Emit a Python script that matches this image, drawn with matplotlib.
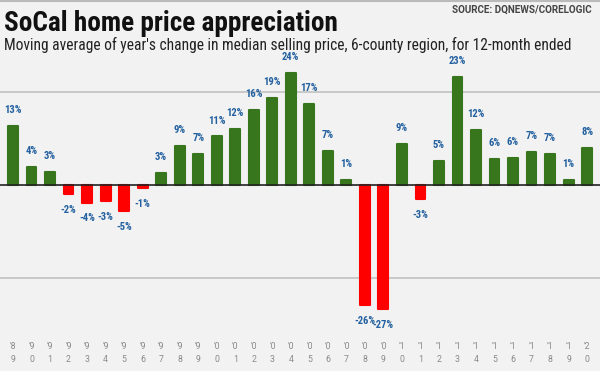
import matplotlib
matplotlib.use('Agg')
import matplotlib.pyplot as plt
from matplotlib import font_manager

years = ["89", "90", "91", "92", "93", "94", "95", "96", "97", "98", "99",
         "00", "01", "02", "03", "04", "05", "06", "07", "08", "09", "10",
         "11", "12", "13", "14", "15", "16", "17", "18", "19", "20"]
values = [12.8, 3.95, 2.9, -1.8, -3.7, -3.3, -5.5, -0.5, 2.7, 8.5, 6.8,
          10.5, 12.2, 16.3, 18.7, 24.2, 17.4, 7.4, 1.1, -25.7, -26.6, 8.9,
          -3.0, 5.3, 23.2, 12.0, 5.7, 5.9, 7.2, 6.8, 1.1, 8.1]
labels = ["13%", "4%", "3%", "-2%", "-4%", "-3%", "-5%", "-1%", "3%", "9%", "7%",
          "11%", "12%", "16%", "19%", "24%", "17%", "7%", "1%", "-26%", "-27%", "9%",
          "-3%", "5%", "23%", "12%", "6%", "6%", "7%", "7%", "1%", "8%"]
gridlines = [-20, 20]

# pick a condensed family
names = {f.name for f in font_manager.fontManager.ttflist}
cond_kw = {}
if 'Roboto Condensed' in names:
    cond_kw = dict(family=['Roboto Condensed', 'DejaVu Sans'])
elif any(f.name == 'Roboto' and f.stretch == 'condensed' for f in font_manager.fontManager.ttflist):
    cond_kw = dict(family=['Roboto', 'DejaVu Sans'], fontstretch='condensed')
elif 'Archivo Narrow' in names:
    cond_kw = dict(family=['Archivo Narrow', 'DejaVu Sans'])
else:
    cond_kw = dict(family=['DejaVu Sans'], fontstretch='condensed')
plain_kw = dict(family=['Roboto', 'DejaVu Sans'])

W, H = 600, 371
BG = '#f2f2f2'
fig = plt.figure(figsize=(6, 3.71), dpi=100, facecolor=BG)

ax_top_px, ax_bot_px = 62, 320
zero_px = 185.3
pp = 4.65  # pixels per percent
ax = fig.add_axes([0, (H - ax_bot_px) / H, 1, (ax_bot_px - ax_top_px) / H])
ax.set_facecolor(BG)
ax.set_ylim(-(ax_bot_px - zero_px) / pp, (zero_px - ax_top_px) / pp)
spacing = 18.52
ax.set_xlim(-13 / spacing, (600 - 13) / spacing)

x = list(range(len(values)))
colors = ['#38761d' if v >= 0 else '#ff0000' for v in values]
for g in gridlines:
    ax.axhline(g, color='#bdbdbd', lw=1.1, zorder=0)
ax.bar(x, values, width=0.53, color=colors, edgecolor=colors, linewidth=1.5,
       joinstyle='round', zorder=2)
ax.axhline(0, color='#222222', lw=1.2, zorder=3)

for xi, v, lab in zip(x, values, labels):
    off = 11.5 if v >= 0 else -11.5
    ax.annotate(lab, (xi, v), xytext=(0, off), textcoords='offset points',
                ha='center', va='center', fontsize=7.6, fontweight='bold',
                color='#22609f', **cond_kw)

ax.set_xticks(x)
ax.set_xticklabels(["'" + y[0] + "\n" + y[1] for y in years])
for t in ax.get_xticklabels():
    t.set_fontsize(6.3)
    t.set_color('#8a8a8a')
    t.set_linespacing(1.6)
    t.set_family(plain_kw['family'])
ax.tick_params(axis='x', length=0, pad=16)
ax.set_yticks([])
for s in ax.spines.values():
    s.set_visible(False)

fig.text(4 / W, 1 - 31 / H, "SoCal home price appreciation", fontsize=19.6,
         fontweight='bold', va='baseline', ha='left', color='#111111', **cond_kw)
fig.text(4 / W, 1 - 50 / H,
         "Moving average of year's change in median selling price, 6-county region, for 12-month ended",
         fontsize=11.2, va='baseline', ha='left', color='#222222', **cond_kw)
fig.text(592 / W, 1 - 13 / H, "SOURCE: DQNEWS/CORELOGIC", fontsize=7.1,
         fontweight='bold', va='baseline', ha='right', color='#444444', **plain_kw)
fig.add_artist(plt.Line2D([0, 1], [1 - 0.5 / H, 1 - 0.5 / H], color='#bbbbbb', lw=1.5))

fig.savefig('out.png', dpi=100, facecolor=BG)
